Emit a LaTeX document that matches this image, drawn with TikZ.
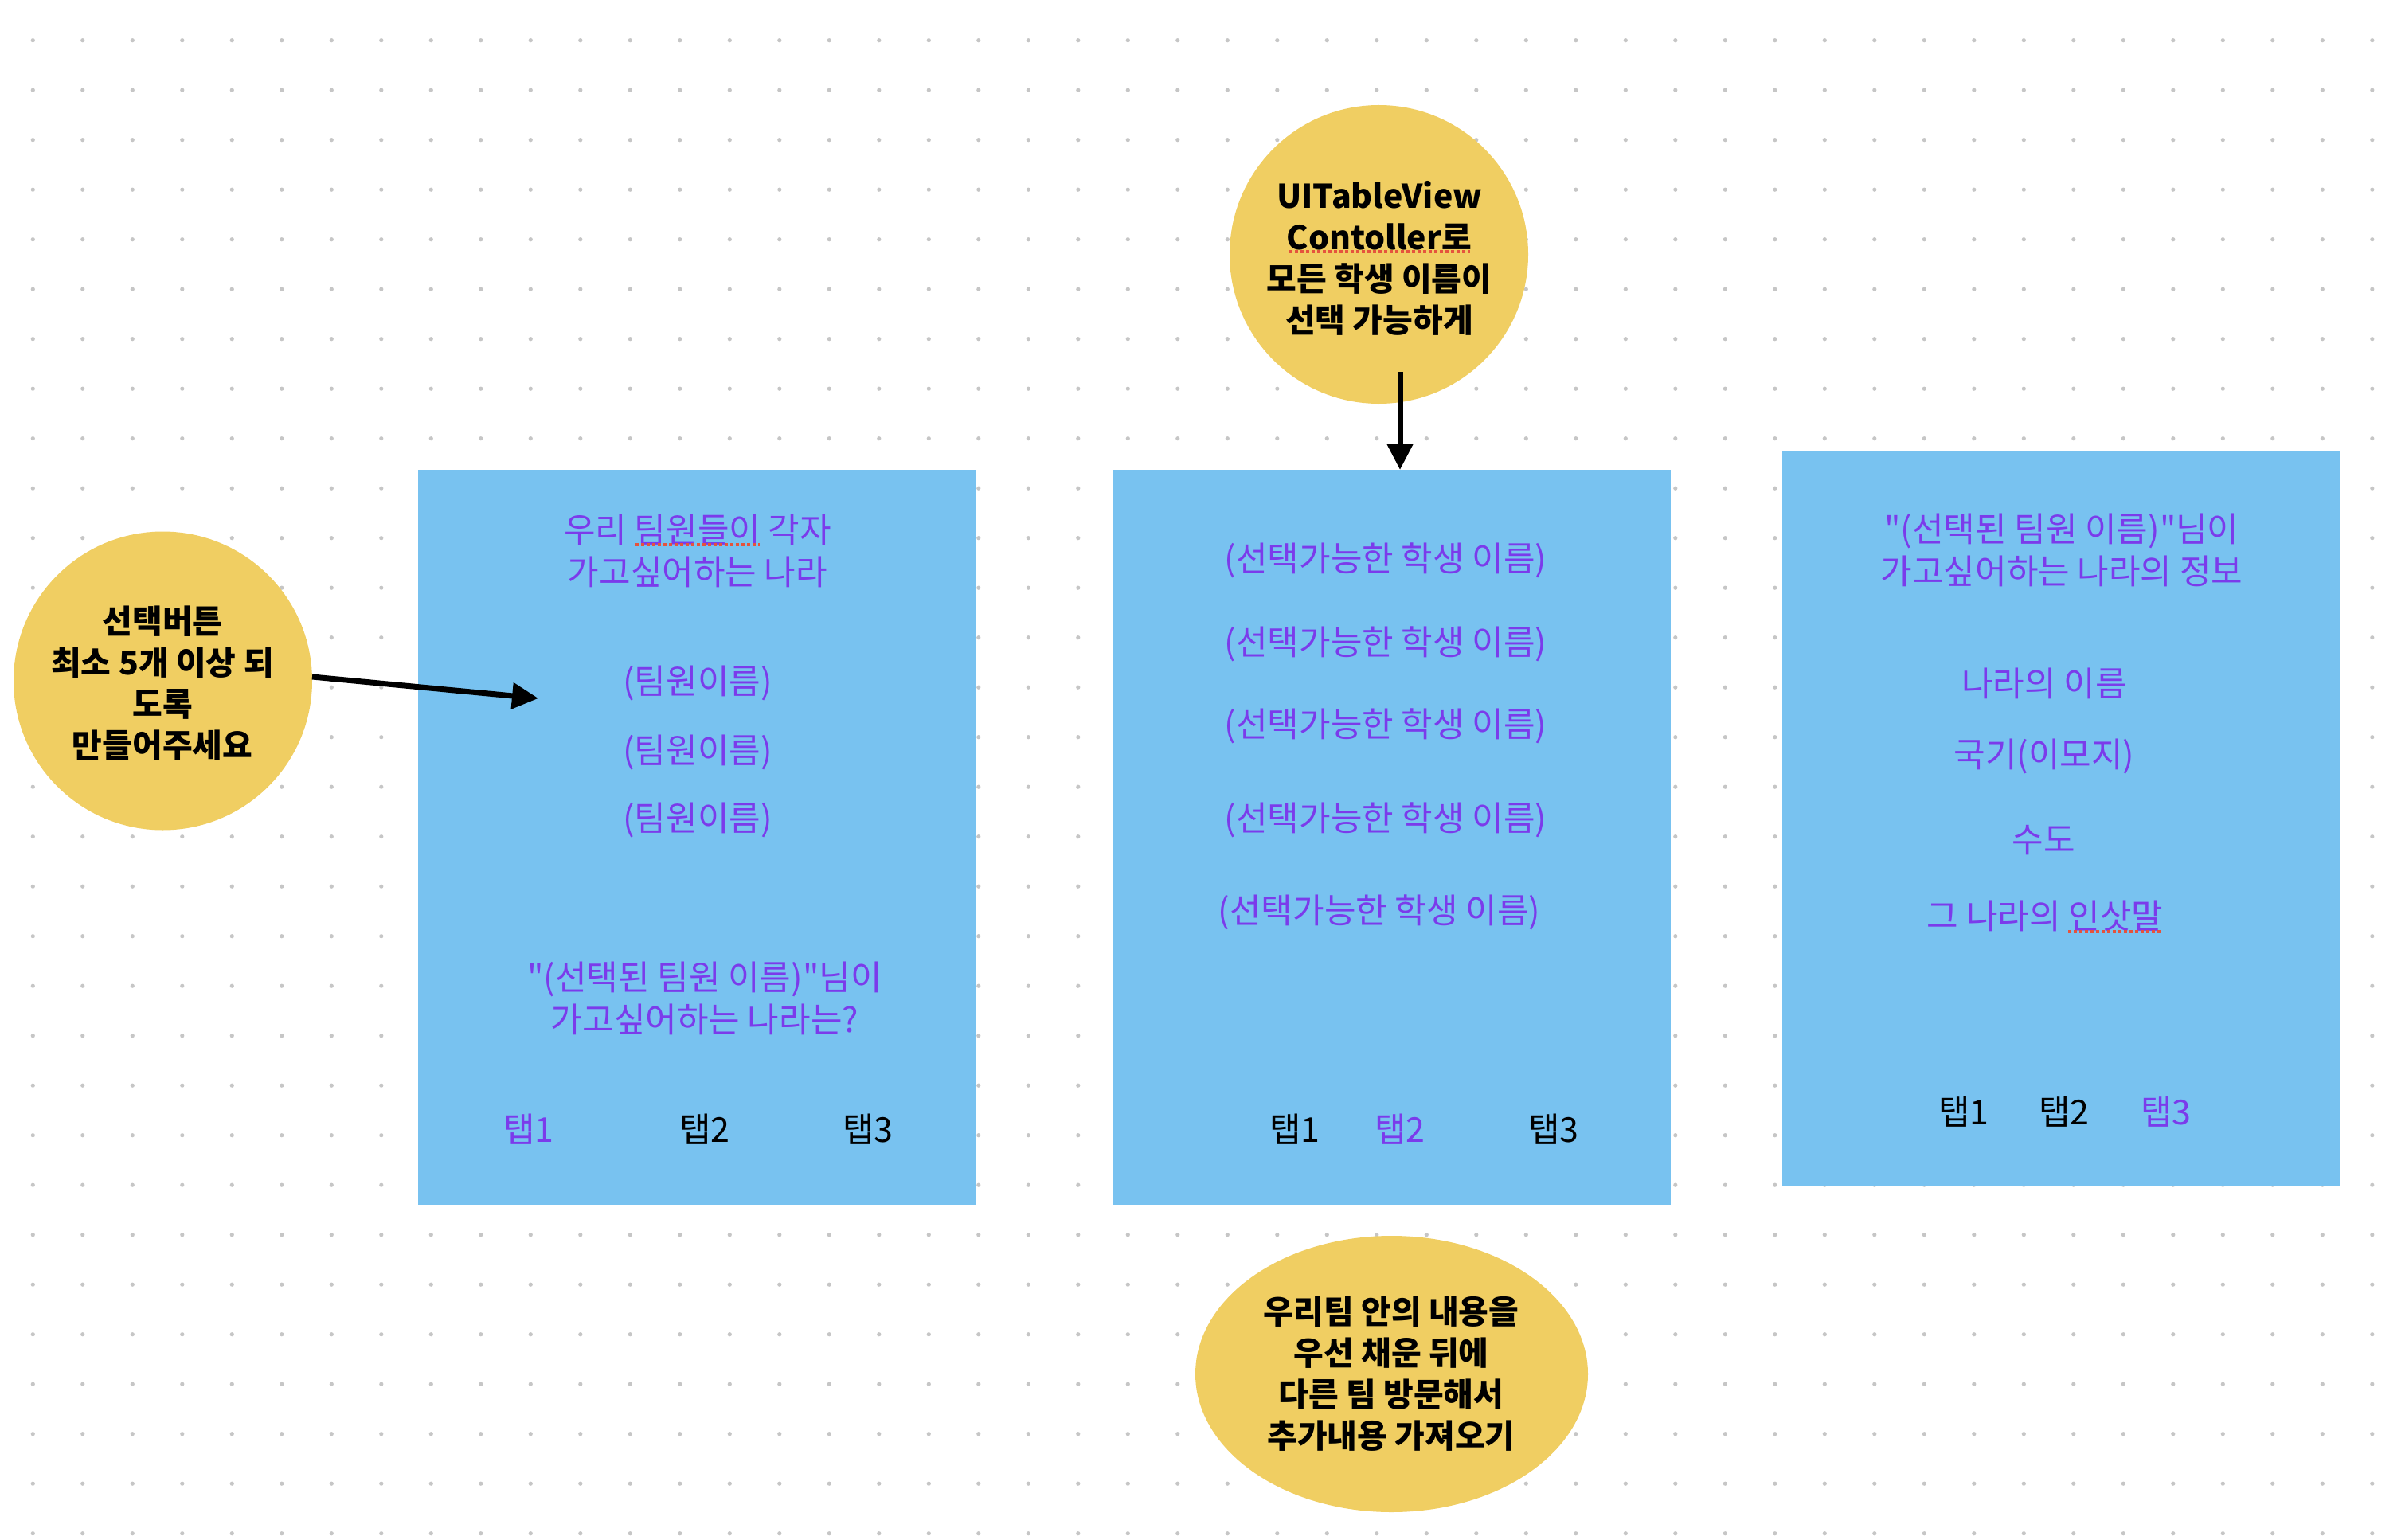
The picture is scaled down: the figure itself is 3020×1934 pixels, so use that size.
\documentclass[tikz,border=0pt]{standalone}
\usepackage{fontspec}
\usetikzlibrary{arrows.meta,shapes.geometric}
\newfontfamily\kr{Noto Sans CJK KR}
\definecolor{dotc}{HTML}{C6C6C6}
\definecolor{panelc}{HTML}{78C2F0}
\definecolor{notec}{HTML}{F0CE62}
\definecolor{ptxt}{HTML}{7B3BEB}
\definecolor{squig}{HTML}{E5533D}
\tikzset{
  panelbox/.style={fill=panelc, draw=none, inner sep=0pt, anchor=north west, minimum width=701pt, minimum height=923pt},
  notecirc/.style={circle, fill=notec, draw=none, minimum size=375pt, inner sep=0pt},
  notetxt/.style={align=center, inner sep=0pt, text=black, font=\kr\bfseries\fontsize{41}{52}\selectfont},
  ptext/.style={align=center, inner sep=0pt, text=ptxt, font=\kr\fontsize{43}{53}\selectfont},
  ktext/.style={ptext, text=black},
  arr/.style={line width=7pt, -{Triangle[length=33pt,width=32pt]}},
  squiggle/.style={squig, line width=4pt, dash pattern=on 4pt off 3pt}
}
\begin{document}
\begin{tikzpicture}[x=1pt,y=-1pt]
\useasboundingbox (0,0) rectangle (3020,1934);
\fill[white] (0,0) rectangle (3020,1934);
% dot grid
\foreach \i in {0,...,47}{
  \foreach \j in {0,...,30}{
    \fill[dotc] (41.3+62.5*\i, 50.7+62.5*\j) circle (2.6pt);
  }
}
% panels
\node[panelbox] (r1) at (525,590) {};
\node[panelbox] (r2) at (1397,590) {};
\node[panelbox, minimum width=700pt] (r3) at (2238,567) {};
% notes
\node[notecirc] (ctop) at (1731.5,319.5) {};
\node[notecirc] (cleft) at (204.5,855) {};
\node[ellipse, fill=notec, draw=none, minimum width=493pt, minimum height=347pt, inner sep=0pt] (cbot) at (1747.5,1725.5) {};
\node[notetxt] (ttop) at (1732,324) {UITableView\\Contoller로\\모든 학생 이름이\\선택 가능하게};
\node[notetxt] (tleft) at (204,858) {선택버튼\\최소 5개 이상 되\\도록\\만들어주세요};
\node[notetxt] (tbot) at (1747,1725) {우리팀 안의 내용을\\우선 채운 뒤에\\다른 팀 방문해서\\추가내용 가져오기};
% panel 1 texts
\node[ptext] (p1a) at (876,691.5) {우리 팀원들이 각자\\가고싶어하는 나라};
\node[ptext] (p1b) at (876,858) {(팀원이름)};
\node[ptext] (p1c) at (876,945) {(팀원이름)};
\node[ptext] (p1d) at (876,1030) {(팀원이름)};
\node[ptext] (p1e) at (885,1253.5) {"(선택된 팀원 이름)"님이\\가고싶어하는 나라는?};
\node[ptext] (p1t1) at (664,1418) {탭1};
\node[ktext] (p1t2) at (885,1418) {탭2};
\node[ktext] (p1t3) at (1090,1418) {탭3};
% panel 2 texts
\node[ptext] (p2a) at (1740,704) {(선택가능한 학생 이름)};
\node[ptext] (p2b) at (1740,809) {(선택가능한 학생 이름)};
\node[ptext] (p2c) at (1740,912) {(선택가능한 학생 이름)};
\node[ptext] (p2d) at (1740,1030) {(선택가능한 학생 이름)};
\node[ptext] (p2e) at (1732,1146) {(선택가능한 학생 이름)};
\node[ktext] (p2t1) at (1626,1418) {탭1};
\node[ptext] (p2t2) at (1758,1418) {탭2};
\node[ktext] (p2t3) at (1951,1418) {탭3};
% panel 3 texts
\node[ptext] (p3a) at (2589,691) {"(선택된 팀원 이름)"님이\\가고싶어하는 나라의 정보};
\node[ptext] (p3b) at (2567,858.5) {나라의 이름};
\node[ptext] (p3c) at (2567,950) {국기(이모지)};
\node[ptext] (p3d) at (2566,1055) {수도};
\node[ptext] (p3e) at (2568,1150) {그 나라의 인삿말};
\node[ktext] (p3t1) at (2466,1396) {탭1};
\node[ktext] (p3t2) at (2592,1396) {탭2};
\node[ptext] (p3t3) at (2720,1396) {탭3};
% spell-check squiggles
\draw[squiggle] (798,684) -- (954,684);
\draw[squiggle] (1619,316) -- (1846,316);
\draw[squiggle] (2597,1170) -- (2714,1170);
% arrows
\coordinate (a1s) at (1758,467);
\draw[arr] (a1s) -- (a1s |- r2.north);
\coordinate (a2s) at (392,850);
\coordinate (a2e) at (676,877);
\draw[arr] (a2s) -- (a2e);
\end{tikzpicture}
\end{document}
